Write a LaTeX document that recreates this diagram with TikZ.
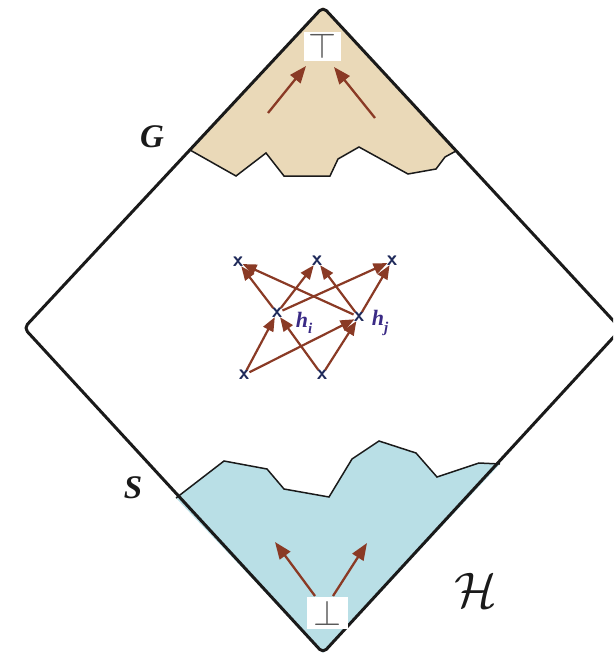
\RequirePackage{fix-cm}
\documentclass[tikz,border=0pt]{standalone}
\usepackage{amsmath,amssymb}
\usepackage{fontspec}
\newfontfamily\timesf{Liberation Serif}
\usetikzlibrary{arrows.meta}
\definecolor{tanfill}{HTML}{EAD9B8}
\definecolor{bluefill}{HTML}{B9DFE6}
\definecolor{arrowc}{HTML}{8A3A25}
\definecolor{markc}{HTML}{1F2A5A}
\definecolor{labc}{HTML}{3A2A85}
\definecolor{framec}{HTML}{1A1A1A}
\tikzset{
  frame/.style={draw=framec, line width=3pt, line join=round},
  jag/.style={draw=framec, line width=1.5pt, line join=miter},
  bigarrow/.style={draw=arrowc, line width=2.3pt, -{Triangle[length=17pt,width=13pt]}},
  smallarrow/.style={draw=arrowc, line width=2.2pt, -{Triangle[length=14pt,width=11pt]}, shorten >=-1pt},
  xmark/.style={inner sep=0pt, minimum size=4pt, text=markc, font=\sffamily\bfseries\fontsize{21}{21}\selectfont},
  symbox/.style={fill=white, inner sep=0pt, text=black!65, font=\fontsize{36}{36}\selectfont},
  biglab/.style={text=framec, font=\timesf\fontsize{33}{33}\selectfont\bfseries\itshape},
  hlab/.style={text=labc, font=\timesf\fontsize{22}{22}\selectfont\bfseries\itshape}
}
\newcommand{\hsub}[1]{h\raisebox{-0.28em}{\fontsize{15}{15}\selectfont #1}}
\begin{document}
\begin{tikzpicture}[x=1pt,y=-1pt]
\useasboundingbox (0,0) rectangle (613,655);
\clip (0,0) rectangle (613,655);
% regions
\fill[tanfill] (323,7) -- (456,151) -- (445,157) -- (436,169) -- (408,174) -- (359,147) -- (338,159) -- (330,176) -- (284,176) -- (266,153) -- (236,176) -- (190,150) -- cycle;
\draw[jag] (190,150) -- (236,176) -- (266,153) -- (284,176) -- (330,176) -- (338,159) -- (359,147) -- (408,174) -- (436,169) -- (445,157) -- (456,151);
\fill[bluefill] (323,653) -- (176,498) -- (224,461) -- (267,469) -- (284,489) -- (329,497) -- (352,459) -- (379,441) -- (416,453) -- (437,477) -- (479,463) -- (500,464) -- cycle;
\draw[jag] (176,498) -- (224,461) -- (267,469) -- (284,489) -- (329,497) -- (352,459) -- (379,441) -- (416,453) -- (437,477) -- (479,463) -- (500,464);
% frame
\draw[frame, rounded corners=5pt] (323,7) -- (621,329) -- (323,653) -- (24,328) -- cycle;
% top / bottom symbols
\node[symbox, minimum width=37pt, minimum height=29pt] (topbox) at (322.5,46.5) {$\top$};
\node[symbox, minimum width=41pt, minimum height=32pt] (botbox) at (327.5,613) {$\bot$};
\coordinate (ts1) at (268,113);
\coordinate (tt1) at (306,66);
\coordinate (ts2) at (375,118);
\coordinate (tt2) at (334,67);
\draw[bigarrow] (ts1) -- (tt1);
\draw[bigarrow] (ts2) -- (tt2);
\coordinate (bs1) at (315,596);
\coordinate (bt1) at (275,542);
\coordinate (bs2) at (333,596);
\coordinate (bt2) at (367,543);
\draw[bigarrow] (bs1) -- (bt1);
\draw[bigarrow] (bs2) -- (bt2);
% graph
\node[xmark] (a1) at (238,262) {x};
\node[xmark] (a2) at (317,261) {x};
\node[xmark] (a3) at (392,261) {x};
\node[xmark] (hi) at (277,313) {x};
\node[xmark] (hj) at (359,317) {x};
\node[xmark] (b1) at (244,375) {x};
\node[xmark] (b2) at (322,375) {x};
\foreach \s/\t in {b1/hi,b1/hj,b2/hi,b2/hj,hi/a1,hi/a2,hi/a3,hj/a1,hj/a2,hj/a3}
  \draw[smallarrow] (\s) -- (\t);
\node[hlab] (hil) at (304,323) {\hsub{i}};
\node[hlab] (hjl) at (380,323) {\hsub{j}};
% labels
\node[biglab] (G) at (152,137) {G};
\node[biglab] (S) at (133,488) {S};
\node[text=framec, font=\fontsize{50}{50}\selectfont] (H) at (476,590) {$\mathcal{H}$};
\end{tikzpicture}
\end{document}
